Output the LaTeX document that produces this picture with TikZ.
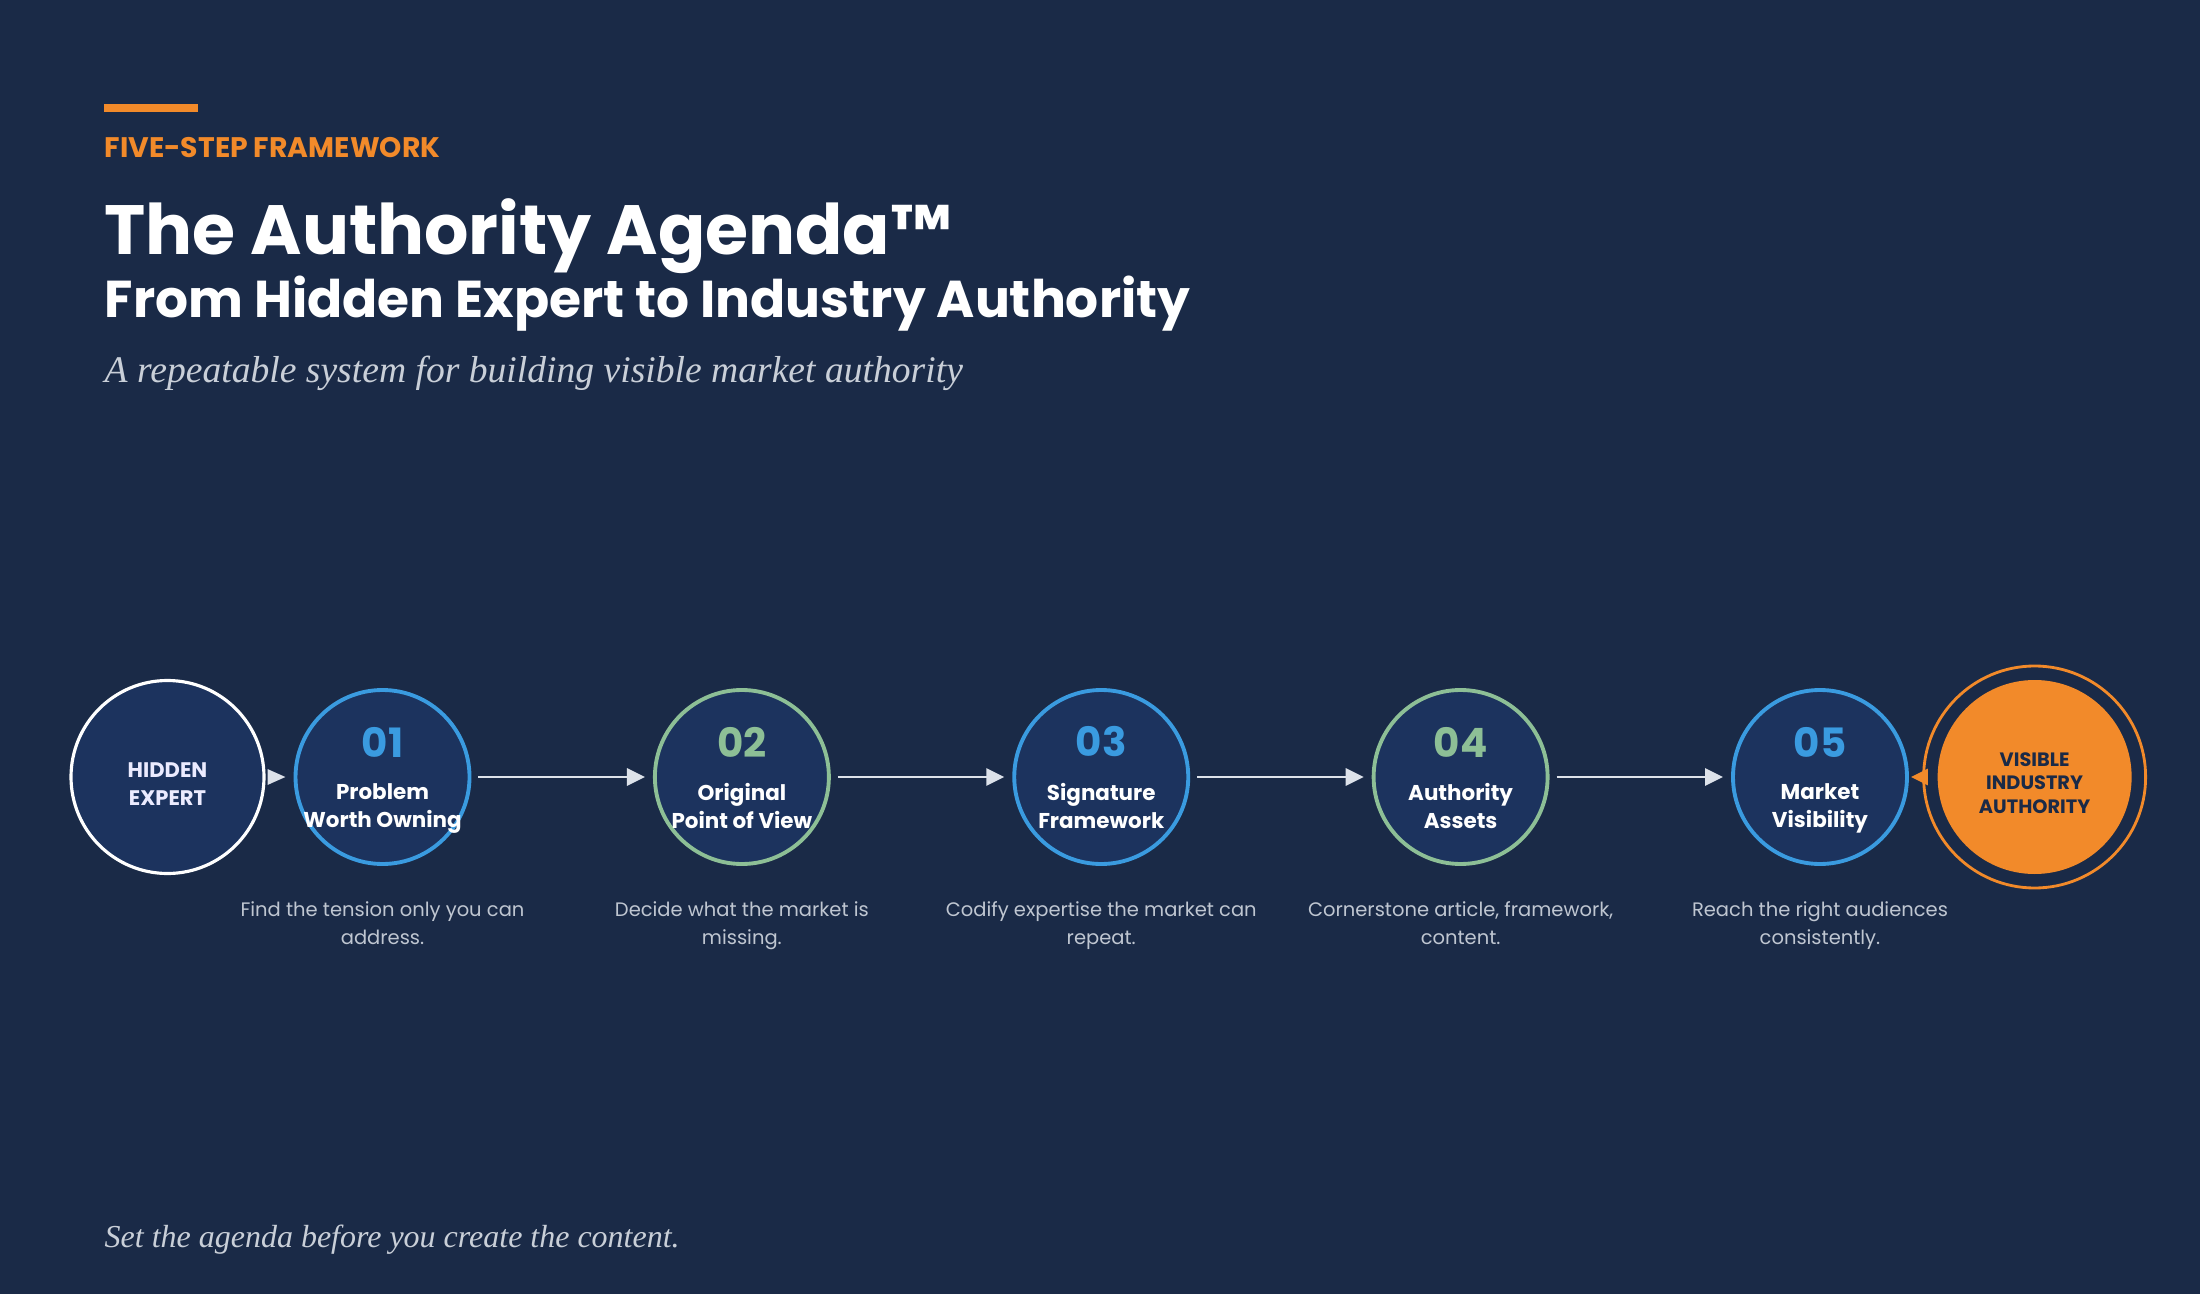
\documentclass[tikz,border=0pt]{standalone}
\usepackage{fontspec}
\setmainfont{Poppins}
\newfontfamily\quotefont{Liberation Serif}
\usetikzlibrary{positioning,arrows.meta}

\definecolor{bgnavy}{HTML}{1A2A47}
\definecolor{circlenavy}{HTML}{1C335E}
\definecolor{stepblue}{HTML}{3A9BE0}
\definecolor{stepgreen}{HTML}{8DBF96}
\definecolor{accentorange}{HTML}{F28A2A}
\definecolor{arrowgrey}{HTML}{DDE2EA}
\definecolor{descgrey}{HTML}{BFC6D1}
\definecolor{quotegrey}{HTML}{C9CFD8}

\begin{document}
\begin{tikzpicture}[node distance=1.815cm, auto]
    % Define styles
    \tikzstyle{startcircle} = [draw=white, circle, line width=0.9pt, minimum size=1.93cm, inner sep=0pt, fill=circlenavy]
    \tikzstyle{stepcircle} = [draw, circle, line width=1.1pt, minimum size=1.74cm, inner sep=0pt, fill=circlenavy]
    \tikzstyle{endcircle} = [circle, minimum size=1.94cm, inner sep=0pt, fill=accentorange]
    \tikzstyle{endring} = [draw=accentorange, line width=0.8pt]
    \tikzstyle{starttext} = [inner sep=0pt, align=center, text=white!92!blue, font=\fontsize{6}{8}\selectfont\bfseries]
    \tikzstyle{endtext} = [inner sep=0pt, align=center, text=bgnavy, font=\fontsize{5.5}{6.7}\selectfont\bfseries]
    \tikzstyle{stepnum} = [inner sep=0pt, font=\fontsize{11.5}{12}\selectfont\bfseries]
    \tikzstyle{stepname} = [inner sep=0pt, anchor=north, align=center, text=white, font=\fontsize{6.1}{8}\selectfont\bfseries]
    \tikzstyle{stepdesc} = [inner sep=0pt, align=center, text=descgrey, font=\fontsize{5.55}{8}\selectfont]
    \tikzstyle{flow} = [-{Triangle[length=0.18cm, width=0.17cm]}, line width=0.85pt, arrowgrey, shorten <=0.07cm, shorten >=0.08cm]
    \tikzstyle{startflow} = [-{Triangle[length=0.18cm, width=0.15cm]}, line width=0.85pt, arrowgrey, shorten <=0.05cm, shorten >=0.08cm]
    \tikzstyle{endflow} = [-{Triangle[length=0.17cm, width=0.16cm]}, line width=0.85pt, accentorange, shorten <=0.1cm, shorten >=0.02cm]

    % Background
    \fill[bgnavy] (0,0) rectangle (22,-12.94);

    % HEADER
    \fill[accentorange] (1.04,-1.04) rectangle (1.98,-1.12);
    \node (kicker) [anchor=base west, inner sep=0pt, text=accentorange, font=\fontsize{8.05}{9}\selectfont\bfseries] at (1.04,-1.58) {FIVE-STEP FRAMEWORK};
    \node (title) [anchor=base west, inner sep=0pt, text=white, font=\fontsize{19.85}{22}\selectfont\bfseries] at (1.04,-2.55) {The Authority Agenda™};
    \node (subtitle) [anchor=base west, inner sep=0pt, text=white, font=\fontsize{14.75}{16}\selectfont\bfseries] at (1.04,-3.18) {From Hidden Expert to Industry Authority};
    \node (tagline) [anchor=base west, inner sep=0pt, text=quotegrey, font=\quotefont\itshape\fontsize{10.7}{12}\selectfont] at (1.04,-3.83) {A repeatable system for building visible market authority};

    % STEPS
    \node (hidden) [startcircle] at (1.675,-7.77) {};
    \node (step1) [stepcircle, draw=stepblue, right=0.28cm of hidden] {};
    \node (step2) [stepcircle, draw=stepgreen, right=of step1] {};
    \node (step3) [stepcircle, draw=stepblue, right=of step2] {};
    \node (step4) [stepcircle, draw=stepgreen, right=of step3] {};
    \node (step5) [stepcircle, draw=stepblue, right=of step4] {};
    \node (visible) [endcircle, right=0.28cm of step5] {};
    \draw[endring] (visible.center) circle [radius=1.11cm];

    \node (hiddentext) [starttext] at ([yshift=-0.07cm]hidden.center) {HIDDEN\\EXPERT};
    \node (visibletext) [endtext] at ([yshift=-0.06cm]visible.center) {VISIBLE\\INDUSTRY\\AUTHORITY};

    % Numbers and names
    \node (num1) [stepnum, text=stepblue] at ([yshift=0.35cm]step1.center) {01};
    \node (num2) [stepnum, text=stepgreen] at ([yshift=0.35cm]step2.center) {02};
    \node (num3) [stepnum, text=stepblue] at ([yshift=0.35cm]step3.center) {03};
    \node (num4) [stepnum, text=stepgreen] at ([yshift=0.35cm]step4.center) {04};
    \node (num5) [stepnum, text=stepblue] at ([yshift=0.35cm]step5.center) {05};

    \node (name1) [stepname] at ([yshift=-0.06cm]step1.center) {Problem\\Worth Owning};
    \node (name2) [stepname] at ([yshift=-0.06cm]step2.center) {Original\\Point of View};
    \node (name3) [stepname] at ([yshift=-0.06cm]step3.center) {Signature\\Framework};
    \node (name4) [stepname] at ([yshift=-0.06cm]step4.center) {Authority\\Assets};
    \node (name5) [stepname] at ([yshift=-0.06cm]step5.center) {Market\\Visibility};

    % Descriptions
    \node (desc1) [stepdesc, below=0.35cm of step1] {Find the tension only you can\\address.};
    \node (desc2) [stepdesc, below=0.35cm of step2] {Decide what the market is\\missing.};
    \node (desc3) [stepdesc, below=0.35cm of step3] {Codify expertise the market can\\repeat.};
    \node (desc4) [stepdesc, below=0.35cm of step4] {Cornerstone article, framework,\\content.};
    \node (desc5) [stepdesc, below=0.35cm of step5] {Reach the right audiences\\consistently.};

    % CONNECTIONS
    \draw[startflow] (hidden) -- (step1);
    \draw[flow] (step1) -- (step2);
    \draw[flow] (step2) -- (step3);
    \draw[flow] (step3) -- (step4);
    \draw[flow] (step4) -- (step5);
    \draw[endflow] (visible) -- (step5);

    % Footer
    \node (footer) [anchor=base west, inner sep=0pt, text=quotegrey, font=\quotefont\itshape\fontsize{9.1}{11}\selectfont] at (1.04,-12.47) {Set the agenda before you create the content.};

\end{tikzpicture}
\end{document}
